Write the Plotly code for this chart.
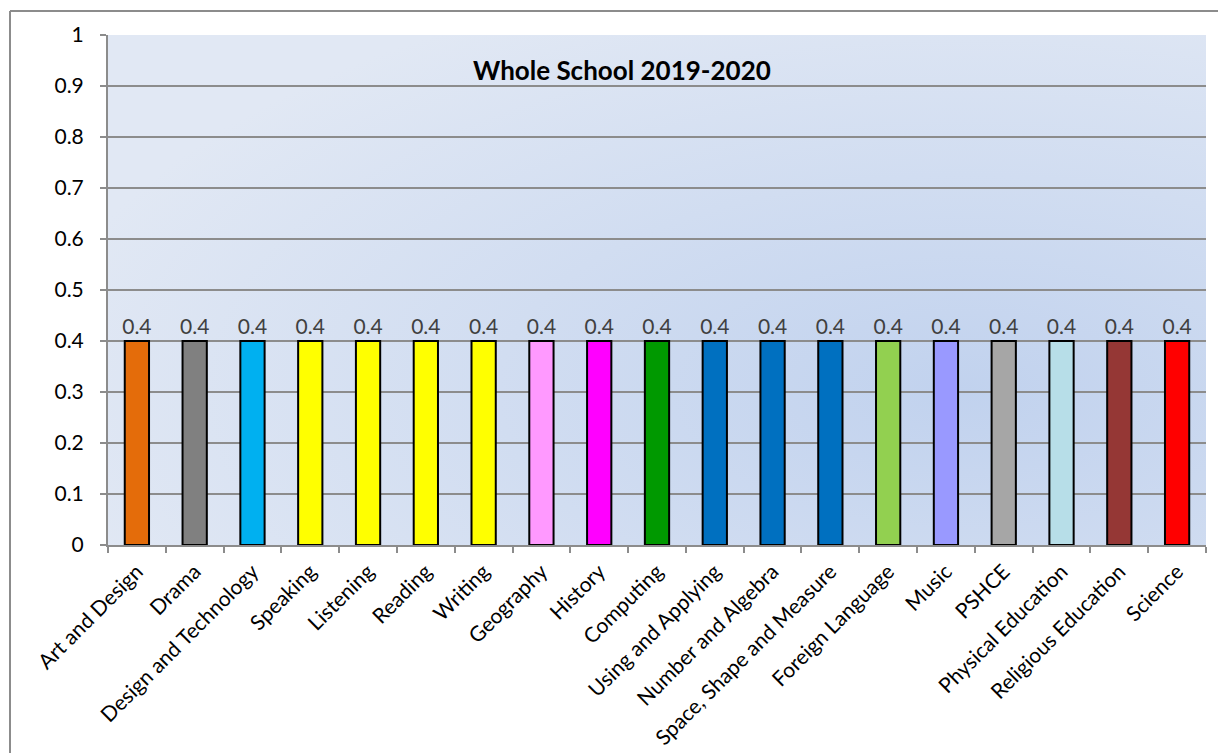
import base64
import plotly.graph_objects as go

categories = ["Art and Design", "Drama", "Design and Technology", "Speaking", "Listening",
              "Reading", "Writing", "Geography", "History", "Computing", "Using and Applying",
              "Number and Algebra", "Space, Shape and Measure", "Foreign Language", "Music",
              "PSHCE", "Physical Education", "Religious Education", "Science"]
values = [0.4] * 19
bar_colors = ["#E46C0A", "#808080", "#00B0F0", "#FFFF00", "#FFFF00", "#FFFF00", "#FFFF00",
              "#FF99FF", "#FF00FF", "#009900", "#0070C0", "#0070C0", "#0070C0", "#92D050",
              "#9999FF", "#A6A6A6", "#B7DEE8", "#953735", "#FF0000"]
y_ticks = [0, 0.1, 0.2, 0.3, 0.4, 0.5, 0.6, 0.7, 0.8, 0.9, 1]
y_ticktext = ["0", "0.1", "0.2", "0.3", "0.4", "0.5", "0.6", "0.7", "0.8", "0.9", "1"]
title_text = "Whole School 2019-2020"

# page body has an 8px margin
OFF = 8
W, H = 1226 - OFF, 753 - OFF
ml, mt = 108 - OFF, 35 - OFF
mr = W - (1206 - OFF)
mb = H - (545 - OFF)
pw, ph = W - ml - mr, H - mt - mb
FONT = "Lato, Open Sans, sans-serif"

svg = ('<svg xmlns="http://www.w3.org/2000/svg" width="1098" height="510" preserveAspectRatio="none">'
       '<defs><radialGradient id="g" cx="0.78" cy="0.7" r="0.85" gradientUnits="objectBoundingBox">'
       '<stop offset="0" stop-color="#c1d2ee"/><stop offset="1" stop-color="#e1e8f4"/>'
       '</radialGradient></defs><rect width="1098" height="510" fill="url(#g)"/></svg>')
src = "data:image/svg+xml;base64," + base64.b64encode(svg.encode()).decode()

fig = go.Figure(go.Bar(
    x=categories, y=values,
    marker=dict(color=bar_colors, line=dict(color="#000000", width=2)),
    text=[f"{v:g}" for v in values], textposition="outside", cliponaxis=False,
    constraintext="none",
    textfont=dict(family=FONT, size=21, color="#404040"),
    width=0.42,
))

bx = (10 - OFF - ml) / pw
by = (H - mb - (11 - OFF)) / ph
fig.update_layout(
    width=W, height=H,
    margin=dict(l=ml, r=mr, t=mt, b=mb, autoexpand=False),
    paper_bgcolor="white", plot_bgcolor="rgba(0,0,0,0)",
    showlegend=False,
    font=dict(family=FONT, size=21, color="#000000"),
    images=[dict(source=src, xref="paper", yref="paper", x=0, y=1, sizex=1, sizey=1,
                 sizing="stretch", xanchor="left", yanchor="top", layer="below")],
    annotations=[dict(text="<b>" + title_text + "</b>", xref="paper", yref="paper",
                      x=(622 - OFF - ml) / pw, y=(H - mb - (70 - OFF)) / ph, showarrow=False,
                      xanchor="center", yanchor="middle",
                      font=dict(family=FONT, size=26, color="#000000"))],
    shapes=[
        dict(type="line", xref="paper", yref="paper", x0=bx, x1=bx,
             y0=by, y1=-mb / ph - 0.01, line=dict(color="#8c8c8c", width=2)),
        dict(type="line", xref="paper", yref="paper", x0=bx, x1=(W - ml) / pw + 0.01,
             y0=by, y1=by, line=dict(color="#8c8c8c", width=2)),
    ],
)

fig.update_xaxes(type="category", tickson="boundaries", ticks="outside", ticklen=6,
                 tickwidth=2, tickcolor="#8c8c8c", showline=True, linecolor="#8c8c8c",
                 linewidth=2, tickangle=-45, showgrid=False, automargin=False,
                 ticklabelstandoff=4,
                 tickfont=dict(family=FONT, size=21, color="#000000"))
fig.update_yaxes(range=[0, 1], tickvals=y_ticks, ticktext=y_ticktext, ticks="outside", ticklen=6,
                 tickwidth=2, tickcolor="#8c8c8c", showline=True, linecolor="#8c8c8c",
                 linewidth=2, showgrid=True, gridcolor="#8c8c8c", gridwidth=2,
                 zeroline=False, automargin=False, ticklabelstandoff=12,
                 tickfont=dict(family=FONT, size=21, color="#000000"))

fig.write_html("out.html")
